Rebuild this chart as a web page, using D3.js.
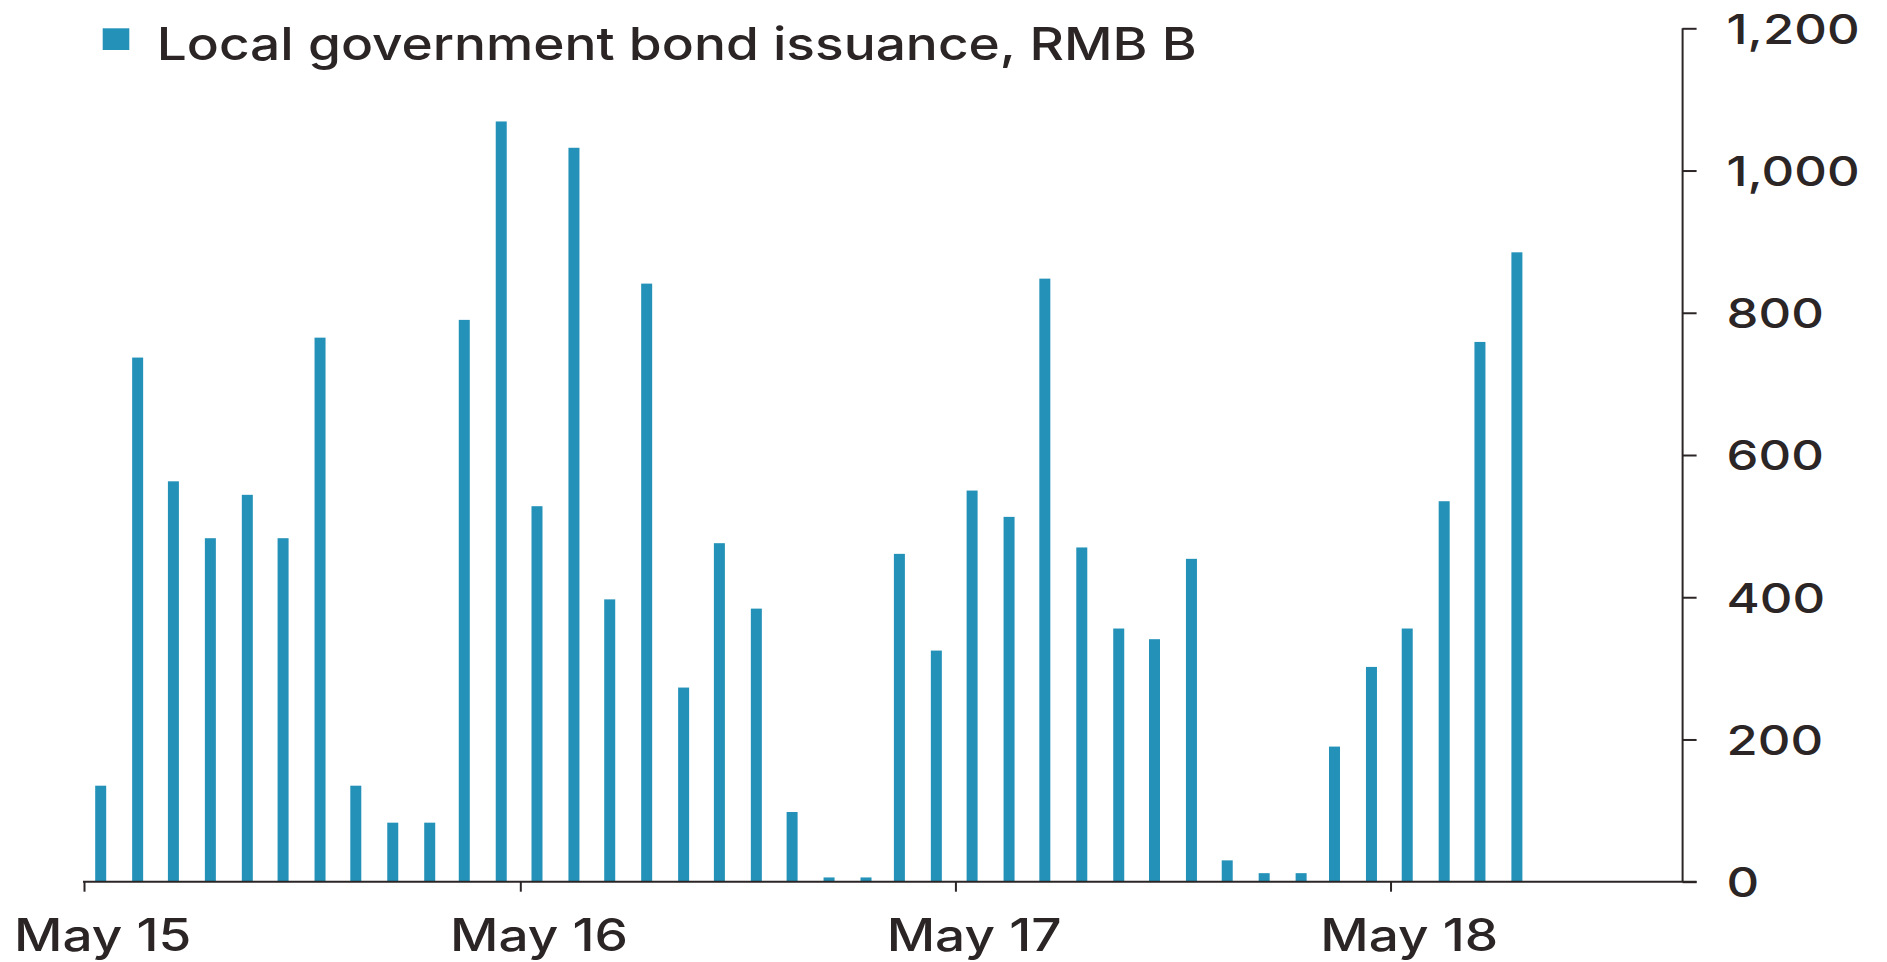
<!DOCTYPE html>
<html>
<head>
<meta charset="utf-8">
<script src="https://cdn.jsdelivr.net/npm/d3@7"></script>
<style>
  html, body { margin: 0; padding: 0; background: #ffffff; }
  svg { display: block; }
  text { font-family: Inter, "Liberation Sans", Arial, sans-serif; font-weight: 500; fill: #2b2526; }
</style>
</head>
<body>
<svg id="chart" width="1887" height="962"></svg>
<script>
// Monthly local government bond issuance, RMB B (May 2015 - Aug 2018)
const months = [
  "2015-05","2015-06","2015-07","2015-08","2015-09","2015-10","2015-11","2015-12",
  "2016-01","2016-02","2016-03","2016-04","2016-05","2016-06","2016-07","2016-08",
  "2016-09","2016-10","2016-11","2016-12","2017-01","2017-02","2017-03","2017-04",
  "2017-05","2017-06","2017-07","2017-08","2017-09","2017-10","2017-11","2017-12",
  "2018-01","2018-02","2018-03","2018-04","2018-05","2018-06","2018-07","2018-08"
];
const issuance = [
  135, 737, 563, 483, 544, 483, 765, 135,
   83,  83, 790, 1069, 528, 1032, 397, 841,
  273, 476, 384,  98,   6,   6, 461, 325,
  550, 513, 848, 470, 356, 341, 454,  30,
   12,  12, 190, 302, 356, 535, 759, 885
];
const yTicks = [0, 200, 400, 600, 800, 1000, 1200];
const xTickMonths = ["2015-05", "2016-05", "2017-05", "2018-05"];
const xTickLabels = ["May 15", "May 16", "May 17", "May 18"];
const legendLabel = "Local government bond issuance, RMB B";

const parseMonth = d3.timeParse("%Y-%m");
const midMonth = m => d3.timeDay.offset(parseMonth(m), 14);

const svg = d3.select("#chart");
const ink = "#2b2526";
const barColor = "#2492b8";

const plotLeft = 84, plotRight = 1682.6, plotTop = 28.3, plotBottom = 881.7;

const x = d3.scaleTime()
  .domain([parseMonth("2015-05"), parseMonth("2019-01")])
  .range([plotLeft, plotRight]);
const y = d3.scaleLinear().domain([0, 1200]).range([plotBottom, plotTop]);

// widen a group of labels so that one reference label spans refWidth
function widen(sel, refWidth) {
  const nodes = sel.nodes();
  const k = refWidth / nodes[nodes.length - 1].getComputedTextLength();
  sel.each(function () {
    const L = this.getComputedTextLength();
    d3.select(this).attr("textLength", L * k).attr("lengthAdjust", "spacingAndGlyphs");
  });
}

// bars
const barW = 11;
svg.append("g").selectAll("rect")
  .data(months.map((m, i) => ({ m, v: issuance[i] })))
  .join("rect")
  .attr("x", d => x(midMonth(d.m)) - barW / 2)
  .attr("width", barW)
  .attr("y", d => y(d.v))
  .attr("height", d => y(0) - y(d.v))
  .attr("fill", barColor);

// x axis: ticks at the start of each May, labels centred on the May bar
const xAxis = svg.append("g")
  .attr("transform", `translate(0,${plotBottom})`)
  .call(d3.axisBottom(x)
    .tickValues(xTickMonths.map(parseMonth))
    .tickSize(10)
    .tickFormat(""));
xAxis.select(".domain").remove();
xAxis.selectAll(".tick line").attr("stroke", ink).attr("stroke-width", 2);

svg.append("line")
  .attr("x1", plotLeft - 1).attr("x2", plotRight + 14)
  .attr("y1", plotBottom).attr("y2", plotBottom)
  .attr("stroke", ink).attr("stroke-width", 2);

const xLab = svg.append("g").selectAll("text")
  .data(xTickMonths)
  .join("text")
  .attr("x", m => x(midMonth(m)) + 2)
  .attr("y", 950.7)
  .attr("text-anchor", "middle")
  .attr("font-size", 44.5)
  .text((m, i) => xTickLabels[i]);
widen(xLab, 178);

// y axis on the right
const yAxis = svg.append("g")
  .attr("transform", `translate(${plotRight},0)`)
  .call(d3.axisRight(y)
    .tickValues(yTicks)
    .tickSize(14)
    .tickPadding(30)
    .tickFormat(d3.format(",")));
yAxis.select(".domain").attr("stroke", ink).attr("stroke-width", 2)
  .attr("d", `M0,${plotTop}V${plotBottom}`);
yAxis.selectAll(".tick line").attr("stroke", ink).attr("stroke-width", 2);
const yLab = yAxis.selectAll(".tick text")
  .attr("font-size", 41.5)
  .attr("font-family", null)
  .attr("fill", ink)
  .attr("dy", "0.36em");
widen(yLab, 133);

// legend
svg.append("rect")
  .attr("x", 102.7).attr("y", 28.3)
  .attr("width", 26.6).attr("height", 21.7)
  .attr("fill", barColor);
const leg = svg.append("text")
  .attr("x", 156.7).attr("y", 60)
  .attr("font-size", 45.8)
  .text(legendLabel);
widen(leg, 1040);
</script>
</body>
</html>
